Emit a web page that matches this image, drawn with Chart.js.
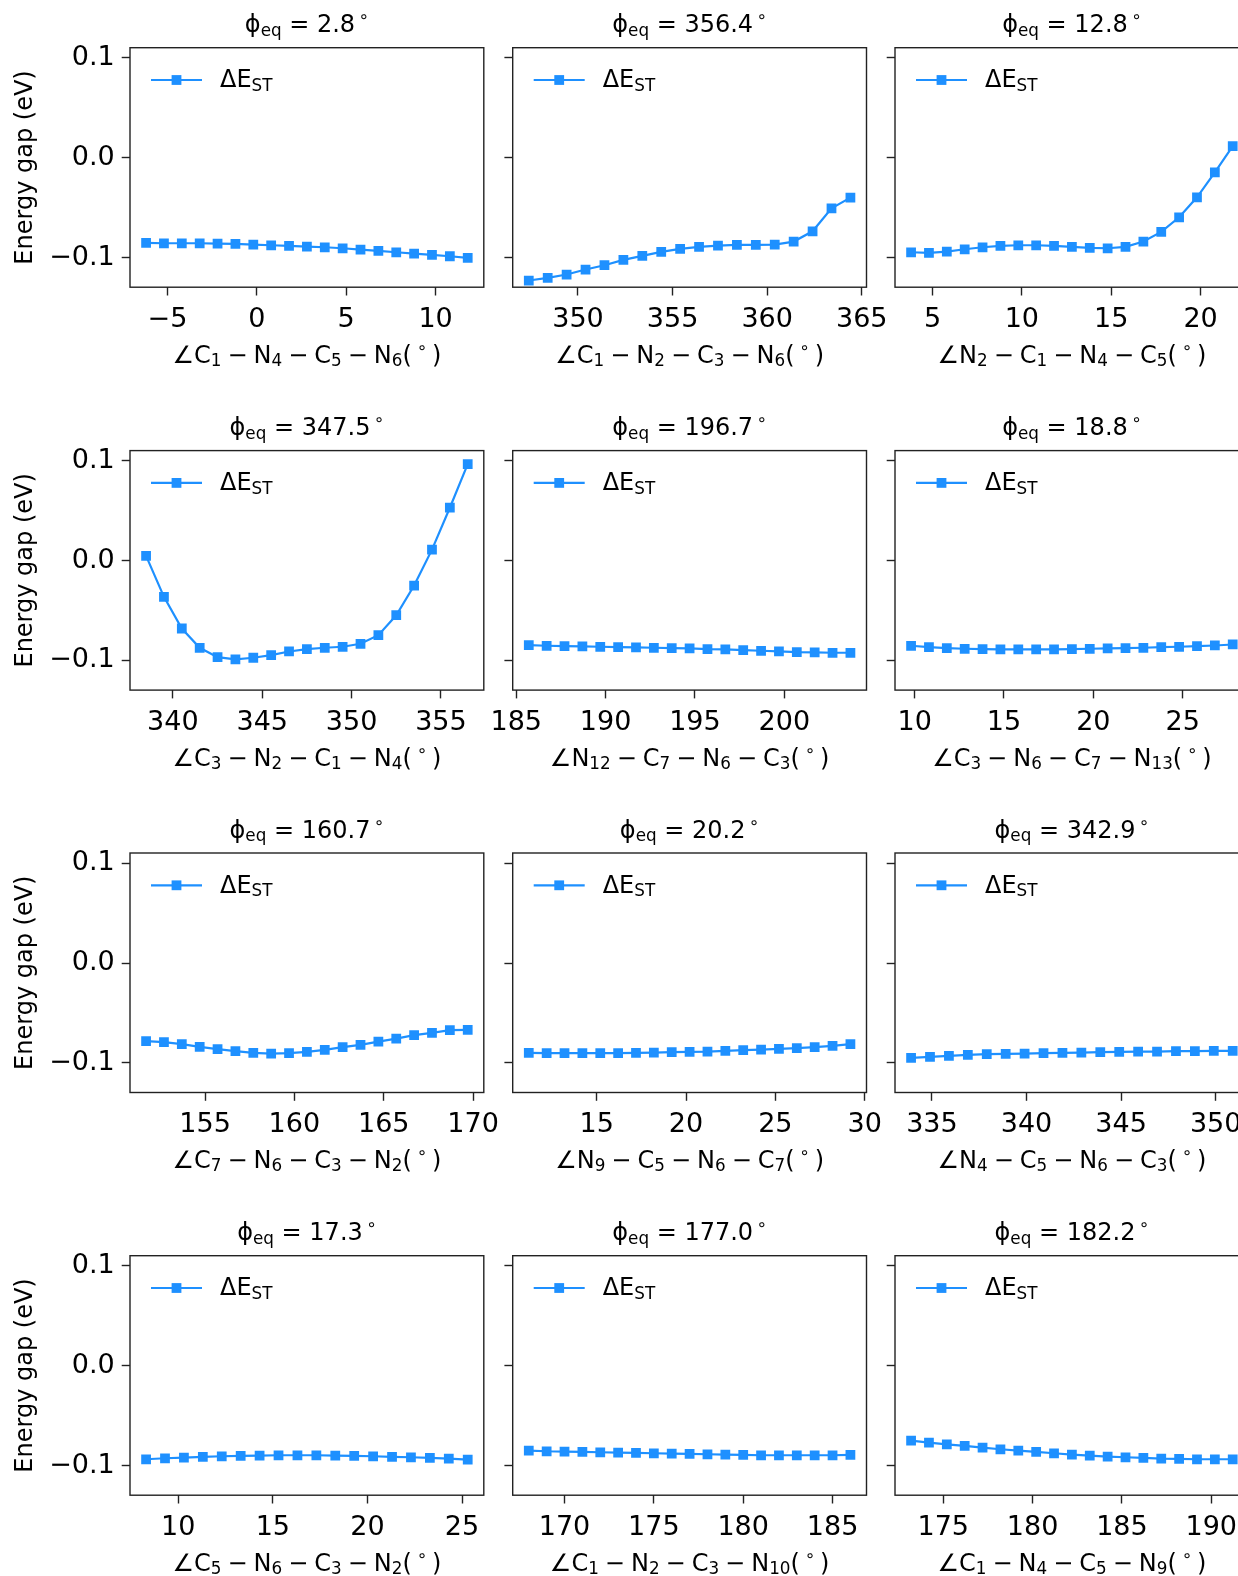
<!DOCTYPE html>
<html><head><meta charset="utf-8">
<script src="https://cdn.jsdelivr.net/npm/chart.js@4.4.1/dist/chart.umd.min.js"></script>
<style>
html,body{margin:0;padding:0;background:#fff;overflow:hidden;width:1238px;height:1576px;position:relative}
canvas{position:absolute}
</style></head><body>
<script>
// ---------- data ----------
const phiEq = ['2.8','356.4','12.8','347.5','196.7','18.8','160.7','20.2','342.9','17.3','177.0','182.2'];
const xLabels = [
  '∠C_{1}\u2005−\u2005N_{4}\u2005−\u2005C_{5}\u2005−\u2005N_{6}(\u2009^{∘}\u2009)',
  '∠C_{1}\u2005−\u2005N_{2}\u2005−\u2005C_{3}\u2005−\u2005N_{6}(\u2009^{∘}\u2009)',
  '∠N_{2}\u2005−\u2005C_{1}\u2005−\u2005N_{4}\u2005−\u2005C_{5}(\u2009^{∘}\u2009)',
  '∠C_{3}\u2005−\u2005N_{2}\u2005−\u2005C_{1}\u2005−\u2005N_{4}(\u2009^{∘}\u2009)',
  '∠N_{12}\u2005−\u2005C_{7}\u2005−\u2005N_{6}\u2005−\u2005C_{3}(\u2009^{∘}\u2009)',
  '∠C_{3}\u2005−\u2005N_{6}\u2005−\u2005C_{7}\u2005−\u2005N_{13}(\u2009^{∘}\u2009)',
  '∠C_{7}\u2005−\u2005N_{6}\u2005−\u2005C_{3}\u2005−\u2005N_{2}(\u2009^{∘}\u2009)',
  '∠N_{9}\u2005−\u2005C_{5}\u2005−\u2005N_{6}\u2005−\u2005C_{7}(\u2009^{∘}\u2009)',
  '∠N_{4}\u2005−\u2005C_{5}\u2005−\u2005N_{6}\u2005−\u2005C_{3}(\u2009^{∘}\u2009)',
  '∠C_{5}\u2005−\u2005N_{6}\u2005−\u2005C_{3}\u2005−\u2005N_{2}(\u2009^{∘}\u2009)',
  '∠C_{1}\u2005−\u2005N_{2}\u2005−\u2005C_{3}\u2005−\u2005N_{10}(\u2009^{∘}\u2009)',
  '∠C_{1}\u2005−\u2005N_{4}\u2005−\u2005C_{5}\u2005−\u2005N_{9}(\u2009^{∘}\u2009)'
];
const yTickValues = [-0.1, 0.0, 0.1];
const legendLabel = 'ΔE_{ST}';
const yAxisLabel = 'Energy gap (eV)';

const x1 = [-6.2,-5.2,-4.2,-3.2,-2.2,-1.2,-0.2,0.8,1.8,2.8,3.8,4.8,5.8,6.8,7.8,8.8,9.8,10.8,11.8];
const y1 = [-0.0853,-0.0857,-0.0857,-0.0857,-0.0860,-0.0863,-0.0870,-0.0877,-0.0883,-0.0890,-0.0897,-0.0907,-0.0920,-0.0933,-0.0947,-0.0960,-0.0973,-0.0987,-0.1003];
const x2 = [347.4,348.4,349.4,350.4,351.4,352.4,353.4,354.4,355.4,356.4,357.4,358.4,359.4,360.4,361.4,362.4,363.4,364.4];
const y2 = [-0.1230,-0.1203,-0.1170,-0.1120,-0.1077,-0.1023,-0.0983,-0.0943,-0.0913,-0.0893,-0.0880,-0.0873,-0.0873,-0.0870,-0.0840,-0.0737,-0.0507,-0.0400];
const x3 = [3.8,4.8,5.8,6.8,7.8,8.8,9.8,10.8,11.8,12.8,13.8,14.8,15.8,16.8,17.8,18.8,19.8,20.8,21.8];
const y3 = [-0.0947,-0.0953,-0.0940,-0.0917,-0.0897,-0.0883,-0.0877,-0.0877,-0.0883,-0.0893,-0.0903,-0.0907,-0.0893,-0.0840,-0.0743,-0.0597,-0.0397,-0.0147,0.0117];
const x4 = [338.5,339.5,340.5,341.5,342.5,343.5,344.5,345.5,346.5,347.5,348.5,349.5,350.5,351.5,352.5,353.5,354.5,355.5,356.5];
const y4 = [0.0047,-0.0363,-0.0680,-0.0873,-0.0967,-0.0990,-0.0973,-0.0947,-0.0910,-0.0887,-0.0873,-0.0863,-0.0833,-0.0747,-0.0547,-0.0250,0.0110,0.0530,0.0967];
const x5 = [185.7,186.7,187.7,188.7,189.7,190.7,191.7,192.7,193.7,194.7,195.7,196.7,197.7,198.7,199.7,200.7,201.7,202.7,203.7];
const y5 = [-0.0847,-0.0853,-0.0857,-0.0860,-0.0863,-0.0867,-0.0870,-0.0873,-0.0877,-0.0880,-0.0887,-0.0890,-0.0897,-0.0903,-0.0910,-0.0917,-0.0920,-0.0923,-0.0923];
const x6 = [9.8,10.8,11.8,12.8,13.8,14.8,15.8,16.8,17.8,18.8,19.8,20.8,21.8,22.8,23.8,24.8,25.8,26.8,27.8];
const y6 = [-0.0853,-0.0867,-0.0877,-0.0883,-0.0887,-0.0890,-0.0890,-0.0890,-0.0890,-0.0887,-0.0883,-0.0880,-0.0877,-0.0873,-0.0867,-0.0863,-0.0857,-0.0850,-0.0840];
const x7 = [151.7,152.7,153.7,154.7,155.7,156.7,157.7,158.7,159.7,160.7,161.7,162.7,163.7,164.7,165.7,166.7,167.7,168.7,169.7];
const y7 = [-0.0783,-0.0793,-0.0813,-0.0840,-0.0863,-0.0883,-0.0900,-0.0907,-0.0903,-0.0890,-0.0870,-0.0843,-0.0820,-0.0787,-0.0757,-0.0723,-0.0700,-0.0673,-0.0670];
const x8 = [11.2,12.2,13.2,14.2,15.2,16.2,17.2,18.2,19.2,20.2,21.2,22.2,23.2,24.2,25.2,26.2,27.2,28.2,29.2];
const y8 = [-0.0900,-0.0903,-0.0903,-0.0903,-0.0903,-0.0903,-0.0900,-0.0897,-0.0893,-0.0890,-0.0887,-0.0880,-0.0873,-0.0867,-0.0860,-0.0853,-0.0843,-0.0830,-0.0813];
const x9 = [333.9,334.9,335.9,336.9,337.9,338.9,339.9,340.9,341.9,342.9,343.9,344.9,345.9,346.9,347.9,348.9,349.9,350.9];
const y9 = [-0.0950,-0.0940,-0.0930,-0.0920,-0.0913,-0.0910,-0.0907,-0.0903,-0.0900,-0.0897,-0.0893,-0.0890,-0.0887,-0.0887,-0.0883,-0.0883,-0.0880,-0.0880];
const x10 = [8.3,9.3,10.3,11.3,12.3,13.3,14.3,15.3,16.3,17.3,18.3,19.3,20.3,21.3,22.3,23.3,24.3,25.3];
const y10 = [-0.0937,-0.0927,-0.0920,-0.0913,-0.0907,-0.0903,-0.0900,-0.0897,-0.0897,-0.0897,-0.0900,-0.0903,-0.0907,-0.0913,-0.0917,-0.0923,-0.0930,-0.0940];
const x11 = [168.0,169.0,170.0,171.0,172.0,173.0,174.0,175.0,176.0,177.0,178.0,179.0,180.0,181.0,182.0,183.0,184.0,185.0,186.0];
const y11 = [-0.0850,-0.0857,-0.0860,-0.0863,-0.0867,-0.0870,-0.0873,-0.0877,-0.0880,-0.0883,-0.0887,-0.0890,-0.0893,-0.0897,-0.0897,-0.0897,-0.0897,-0.0897,-0.0893];
const x12 = [173.2,174.2,175.2,176.2,177.2,178.2,179.2,180.2,181.2,182.2,183.2,184.2,185.2,186.2,187.2,188.2,189.2,190.2,191.2];
const y12 = [-0.0750,-0.0770,-0.0787,-0.0803,-0.0820,-0.0837,-0.0850,-0.0863,-0.0877,-0.0890,-0.0900,-0.0910,-0.0917,-0.0923,-0.0930,-0.0933,-0.0937,-0.0937,-0.0937];

const xSeries = [x1,x2,x3,x4,x5,x6,x7,x8,x9,x10,x11,x12];
const ySeries = [y1,y2,y3,y4,y5,y6,y7,y8,y9,y10,y11,y12];

// ---------- layout / style ----------
const BLUE = '#1E90FF';
const INK = '#222';
const FAMILY = '"DejaVu Sans", sans-serif';
const TICK_FS = 27;
const LABEL_FS = 24;
const Y_MIN = -0.1297, Y_MAX = 0.1102;
const COLS = [130, 512.7, 895];
const ROWS = [47.7, 450.6, 853, 1255.7];
const PW = 353.8, PH = 239.5;
const CW = 540, CH = 395;

function parseRich(s){
  const parts=[]; const re=/_\{([^}]*)\}|\^\{([^}]*)\}/g; let last=0, m;
  while((m=re.exec(s))){
    if(m.index>last) parts.push({t:s.slice(last,m.index),k:0});
    if(m[1]!==undefined) parts.push({t:m[1],k:-1}); else parts.push({t:m[2],k:1});
    last=re.lastIndex;
  }
  if(last<s.length) parts.push({t:s.slice(last),k:0});
  return parts;
}
function drawRich(ctx, s, x, baseY, size, align){
  const parts=parseRich(s); const small=size*0.7; let total=0;
  parts.forEach(p=>{ctx.font=(p.k?small:size)+'px '+FAMILY; p.w=ctx.measureText(p.t).width; total+=p.w;});
  let cx = align==='center' ? x-total/2 : x;
  ctx.textAlign='left'; ctx.textBaseline='alphabetic';
  parts.forEach(p=>{
    ctx.font=(p.k?small:size)+'px '+FAMILY;
    const dy = p.k===-1 ? size*0.14 : (p.k===1 ? -size*0.42 : 0);
    ctx.fillText(p.t, cx, baseY+dy);
    cx += p.w;
  });
}

const panelPlugin = {
  id: 'panel',
  afterDraw(chart, args, o){
    const ctx = chart.ctx, ca = chart.chartArea;
    ctx.save();
    ctx.strokeStyle = INK; ctx.lineWidth = 1.4;
    ctx.strokeRect(ca.left, ca.top, ca.right-ca.left, ca.bottom-ca.top);
    // legend
    const ly = ca.top + 32.3;
    ctx.strokeStyle = BLUE; ctx.lineWidth = 2.2;
    ctx.beginPath(); ctx.moveTo(ca.left+21, ly); ctx.lineTo(ca.left+72, ly); ctx.stroke();
    ctx.fillStyle = BLUE;
    ctx.fillRect(ca.left+46.5-4.9, ly-4.9, 9.8, 9.8);
    ctx.fillStyle = '#000';
    drawRich(ctx, legendLabel, ca.left+90, ca.top+39.6, LABEL_FS, 'left');
    // title
    const cx = (ca.left+ca.right)/2;
    drawRich(ctx, 'ϕ_{eq} = ' + o.title + '^{\u2009∘}', cx, ca.top-15.4, LABEL_FS, 'center');
    // x label
    drawRich(ctx, o.xlabel, cx, ca.bottom+75.5, LABEL_FS, 'center');
    // y label
    if (o.showY){
      ctx.save();
      ctx.translate(ca.left-97.6, (ca.top+ca.bottom)/2);
      ctx.rotate(-Math.PI/2);
      ctx.font = LABEL_FS+'px '+FAMILY; ctx.textAlign='center'; ctx.textBaseline='alphabetic';
      ctx.fillText(yAxisLabel, 0, 0);
      ctx.restore();
    }
    ctx.restore();
  }
};

function fmtNum(v, dec){
  if (Math.abs(v) < 1e-9) v = 0;
  return v.toFixed(dec).replace('-', '\u2212');
}

for (let i=0;i<12;i++){
  const r = Math.floor(i/3), c = i%3;
  const cl = Math.floor(COLS[c]) - 130;
  const yW = COLS[c] - cl;
  const ct = Math.floor(ROWS[r]) - 50;
  const padTop = ROWS[r] - ct;
  const padRight = CW - yW - PW;
  const xH = CH - padTop - PH;
  const cv = document.createElement('canvas');
  cv.width = CW; cv.height = CH;
  cv.style.left = cl+'px'; cv.style.top = ct+'px';
  cv.style.width = CW+'px'; cv.style.height = CH+'px';
  document.body.appendChild(cv);
  const xs = xSeries[i], ys = ySeries[i];
  const span = xs[xs.length-1]-xs[0];
  const gridOpt = {display:true, drawOnChartArea:false, drawTicks:true, tickLength:8.3, tickWidth:1.4, tickColor:INK, color:INK};
  new Chart(cv, {
    type: 'line',
    data: { datasets: [{
      data: xs.map((x,j)=>({x:x, y:ys[j]})),
      borderColor: BLUE, backgroundColor: BLUE, borderWidth: 2.2,
      pointStyle: 'rect', pointRadius: 6.9, pointBorderWidth: 0,
      pointBackgroundColor: BLUE, tension: 0, fill: false
    }]},
    options: {
      responsive: false, animation: false, events: [],
      layout: { padding: { top: padTop, right: padRight, left: 0, bottom: 0 } },
      plugins: { legend:{display:false}, tooltip:{enabled:false}, title:{display:false},
        panel: { title: phiEq[i], xlabel: xLabels[i], showY: c===0 } },
      scales: {
        x: { type:'linear', position:'bottom',
          min: xs[0]-0.05*span, max: xs[xs.length-1]+0.05*span,
          afterFit: s => { s.height = xH; },
          ticks: { stepSize:5, includeBounds:false, autoSkip:false, maxRotation:0,
            font:{family:FAMILY, size:TICK_FS}, color:'#000', padding:8,
            callback: v => fmtNum(v,0) },
          grid: gridOpt, border:{display:false} },
        y: { type:'linear', position:'left', min:Y_MIN, max:Y_MAX,
          afterFit: s => { s.width = yW; },
          afterBuildTicks: s => { s.ticks = yTickValues.map(v=>({value:v})); },
          ticks: { autoSkip:false, font:{family:FAMILY, size:TICK_FS}, color:'#000', padding:7,
            callback: v => c===0 ? fmtNum(v,1) : '' },
          grid: gridOpt, border:{display:false} }
      }
    },
    plugins: [panelPlugin]
  });
}
</script>
</body></html>
